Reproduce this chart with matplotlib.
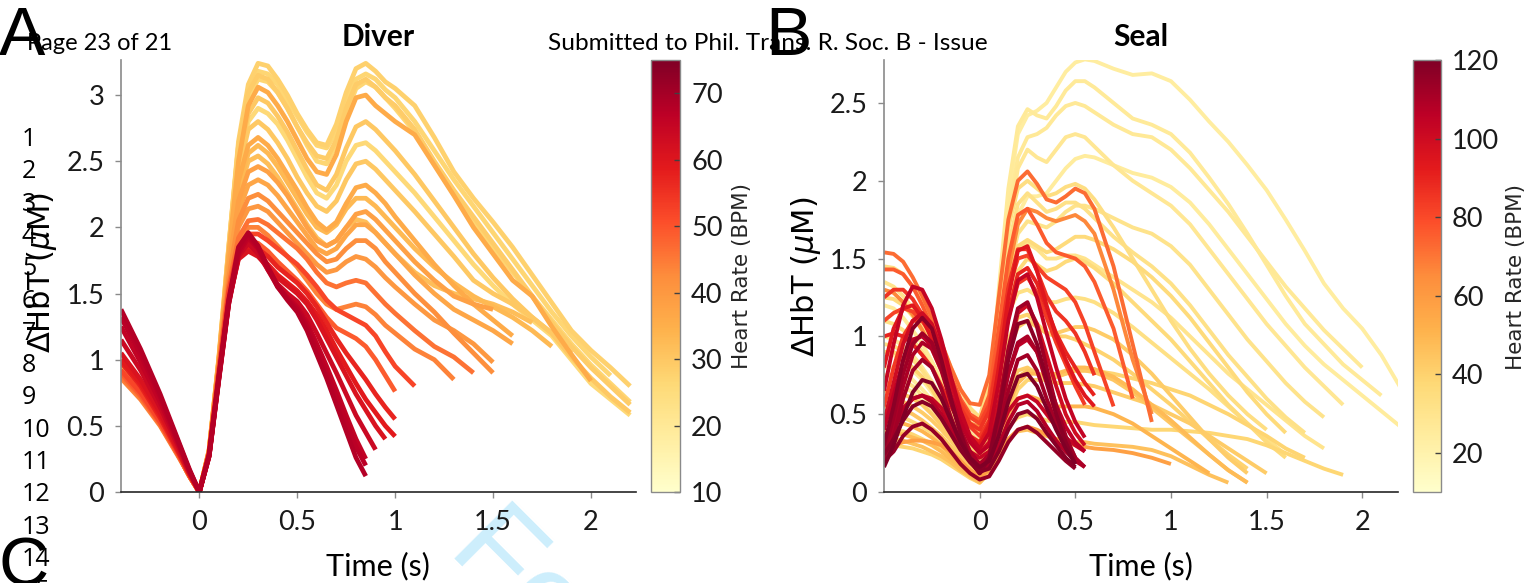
import numpy as np
import matplotlib
matplotlib.use("Agg")
import matplotlib.pyplot as plt
from matplotlib import colors as mcolors
from matplotlib import cm
from matplotlib.ticker import FormatStrFormatter

# ---------------- DATA ----------------
# Diver: time grid (s)
t_diver = [-0.4, -0.3, -0.2, -0.1, -0.05, 0.0, 0.05, 0.1, 0.15, 0.2, 0.25, 0.3, 0.35, 0.4,
           0.45, 0.5, 0.55, 0.6, 0.65, 0.7, 0.75, 0.8, 0.85, 0.9, 0.95, 1.0, 1.1, 1.2, 1.3,
           1.4, 1.5, 1.6, 1.7, 1.8, 1.9, 2.0, 2.1, 2.2]

d01 = [1.38, 1.08, 0.74, 0.36, 0.17, 0.0, 0.28, 0.88, 1.45, 1.85, 1.96, 1.86, 1.70, 1.55, 1.45, 1.36, 1.22, 1.04, 0.86, 0.66, 0.46, 0.26, 0.12]
d02 = [1.25, 0.98, 0.68, 0.34, 0.16, 0.0, 0.27, 0.85, 1.42, 1.80, 1.92, 1.84, 1.68, 1.55, 1.47, 1.40, 1.28, 1.12, 0.95, 0.77, 0.58, 0.40, 0.25]
d03 = [1.15, 0.92, 0.64, 0.32, 0.15, 0.0, 0.27, 0.86, 1.42, 1.78, 1.88, 1.80, 1.68, 1.57, 1.50, 1.44, 1.34, 1.20, 1.05, 0.90, 0.74, 0.58, 0.45, 0.32]
d04 = [1.05, 0.85, 0.60, 0.30, 0.14, 0.0, 0.28, 0.87, 1.44, 1.76, 1.82, 1.78, 1.70, 1.62, 1.56, 1.50, 1.42, 1.30, 1.16, 1.02, 0.88, 0.74, 0.62, 0.50, 0.40]
d05 = [0.98, 0.80, 0.56, 0.28, 0.13, 0.0, 0.28, 0.88, 1.46, 1.78, 1.86, 1.84, 1.78, 1.70, 1.64, 1.58, 1.50, 1.40, 1.28, 1.16, 1.05, 0.95, 0.85, 0.74, 0.64, 0.55]
d06 = [0.92, 0.75, 0.53, 0.27, 0.13, 0.0, 0.30, 0.92, 1.52, 1.85, 1.95, 1.95, 1.90, 1.84, 1.78, 1.72, 1.64, 1.55, 1.45, 1.38, 1.34, 1.30, 1.26, 1.18, 1.06, 0.95, 0.80]
d07 = [0.88, 0.72, 0.51, 0.26, 0.12, 0.0, 0.30, 0.94, 1.56, 1.92, 2.05, 2.06, 2.02, 1.96, 1.90, 1.84, 1.76, 1.66, 1.58, 1.55, 1.58, 1.60, 1.58, 1.50, 1.42, 1.35, 1.22, 1.10, 1.02, 0.90]
d08 = [0.90, 0.73, 0.51, 0.26, 0.12, 0.0, 0.30, 0.96, 1.62, 2.05, 2.22, 2.25, 2.20, 2.12, 2.04, 1.96, 1.88, 1.80, 1.74, 1.76, 1.84, 1.90, 1.90, 1.84, 1.74, 1.66, 1.50, 1.36, 1.20, 1.05, 0.90]
d09 = [0.92, 0.74, 0.52, 0.26, 0.12, 0.0, 0.30, 0.98, 1.70, 2.20, 2.42, 2.46, 2.42, 2.34, 2.24, 2.12, 2.00, 1.90, 1.86, 1.90, 2.00, 2.10, 2.12, 2.06, 1.98, 1.90, 1.74, 1.60, 1.48, 1.42, 1.38]
d10 = [0.95, 0.76, 0.53, 0.27, 0.12, 0.0, 0.31, 1.00, 1.76, 2.35, 2.62, 2.68, 2.62, 2.52, 2.40, 2.28, 2.15, 2.04, 1.98, 2.04, 2.18, 2.30, 2.32, 2.26, 2.18, 2.08, 1.90, 1.72, 1.56, 1.42, 1.30, 1.18]
d11 = [0.96, 0.77, 0.54, 0.27, 0.13, 0.0, 0.31, 1.00, 1.80, 2.50, 2.92, 3.06, 3.02, 2.92, 2.80, 2.66, 2.52, 2.42, 2.40, 2.55, 2.80, 2.98, 3.00, 2.92, 2.86, 2.80, 2.70, 2.47, 2.24, 2.00, 1.80, 1.60, 1.48, 1.25, 1.04, 0.84]
d12 = [0.98, 0.78, 0.55, 0.28, 0.13, 0.0, 0.32, 1.02, 1.85, 2.65, 3.08, 3.24, 3.22, 3.12, 3.00, 2.86, 2.74, 2.64, 2.62, 2.78, 3.02, 3.20, 3.24, 3.18, 3.10, 3.05, 2.92, 2.68, 2.42, 2.22, 2.04, 1.85, 1.64, 1.43, 1.22, 1.07, 0.94, 0.80]
d13 = [0.95, 0.76, 0.53, 0.27, 0.12, 0.0, 0.31, 1.00, 1.82, 2.58, 2.98, 3.12, 3.10, 3.02, 2.90, 2.76, 2.62, 2.50, 2.48, 2.62, 2.86, 3.05, 3.10, 3.06, 2.98, 2.90, 2.72, 2.48, 2.25, 2.05, 1.85, 1.66, 1.48, 1.30, 1.12, 0.96, 0.82, 0.68]
d14 = [0.92, 0.74, 0.52, 0.26, 0.12, 0.0, 0.30, 0.98, 1.75, 2.45, 2.80, 2.90, 2.86, 2.78, 2.66, 2.52, 2.38, 2.26, 2.22, 2.32, 2.50, 2.62, 2.64, 2.58, 2.50, 2.42, 2.26, 2.08, 1.90, 1.72, 1.56, 1.42, 1.30, 1.18, 1.00, 0.82, 0.70, 0.58]
d15 = [0.94, 0.75, 0.53, 0.27, 0.12, 0.0, 0.31, 1.00, 1.78, 2.42, 2.74, 2.80, 2.74, 2.64, 2.52, 2.38, 2.26, 2.16, 2.12, 2.20, 2.36, 2.48, 2.50, 2.44, 2.36, 2.28, 2.12, 1.95, 1.78, 1.60, 1.50, 1.42, 1.32, 1.20, 1.05]
d16 = [0.90, 0.73, 0.51, 0.26, 0.12, 0.0, 0.30, 0.97, 1.70, 2.25, 2.50, 2.54, 2.48, 2.38, 2.26, 2.14, 2.02, 1.92, 1.86, 1.90, 2.00, 2.06, 2.04, 1.96, 1.88, 1.80, 1.66, 1.56, 1.50, 1.46, 1.42, 1.36, 1.28]
d17 = [0.96, 0.77, 0.54, 0.27, 0.13, 0.0, 0.31, 1.01, 1.84, 2.62, 3.04, 3.18, 3.16, 3.08, 2.96, 2.84, 2.72, 2.62, 2.60, 2.72, 2.94, 3.12, 3.16, 3.12, 3.04, 2.98, 2.80, 2.58, 2.36, 2.16, 1.96, 1.76, 1.56, 1.36, 1.18, 1.02, 0.88]
d18 = [0.86, 0.70, 0.50, 0.25, 0.12, 0.0, 0.30, 0.93, 1.54, 1.88, 2.00, 2.00, 1.94, 1.86, 1.78, 1.70, 1.60, 1.50, 1.42, 1.38, 1.40, 1.42, 1.40, 1.34, 1.26, 1.20, 1.08, 1.00, 0.85]
d19 = [0.90, 0.73, 0.52, 0.26, 0.12, 0.0, 0.29, 0.90, 1.50, 1.82, 1.90, 1.88, 1.82, 1.74, 1.67, 1.60, 1.52, 1.42, 1.32, 1.24, 1.20, 1.16, 1.10, 1.00, 0.88, 0.76]
d20 = [1.32, 1.04, 0.72, 0.35, 0.16, 0.0, 0.27, 0.86, 1.43, 1.82, 1.94, 1.85, 1.70, 1.56, 1.46, 1.38, 1.25, 1.08, 0.90, 0.72, 0.53, 0.34, 0.20]
d21 = [1.00, 0.82, 0.58, 0.29, 0.14, 0.0, 0.28, 0.87, 1.44, 1.77, 1.84, 1.80, 1.72, 1.64, 1.58, 1.52, 1.44, 1.34, 1.22, 1.08, 0.95, 0.82, 0.70, 0.60, 0.50, 0.42]
d22 = [0.93, 0.75, 0.52, 0.26, 0.12, 0.0, 0.30, 0.98, 1.72, 2.30, 2.56, 2.62, 2.56, 2.46, 2.34, 2.22, 2.10, 2.00, 1.96, 2.02, 2.14, 2.22, 2.22, 2.16, 2.08, 2.00, 1.84, 1.70, 1.58, 1.48, 1.40, 1.32, 1.22, 1.10]
d23 = [0.97, 0.78, 0.55, 0.27, 0.13, 0.0, 0.32, 1.02, 1.85, 2.62, 3.02, 3.15, 3.12, 3.02, 2.90, 2.76, 2.64, 2.54, 2.52, 2.66, 2.90, 3.08, 3.12, 3.06, 2.98, 2.92, 2.74, 2.50, 2.28, 2.08, 1.88, 1.68, 1.48, 1.28, 1.10, 0.94, 0.80, 0.66]
d24 = [0.93, 0.75, 0.52, 0.26, 0.12, 0.0, 0.31, 0.99, 1.78, 2.50, 2.86, 2.98, 2.94, 2.84, 2.72, 2.58, 2.44, 2.32, 2.28, 2.40, 2.60, 2.76, 2.80, 2.74, 2.66, 2.58, 2.40, 2.20, 2.00, 1.80, 1.62, 1.46, 1.32, 1.20, 1.02, 0.86, 0.72, 0.60]
d25 = [0.89, 0.72, 0.51, 0.26, 0.12, 0.0, 0.30, 0.95, 1.60, 2.00, 2.14, 2.16, 2.12, 2.04, 1.96, 1.88, 1.80, 1.72, 1.66, 1.68, 1.74, 1.78, 1.76, 1.70, 1.62, 1.55, 1.42, 1.30, 1.22, 1.12, 0.98]
d26 = [0.91, 0.74, 0.52, 0.26, 0.12, 0.0, 0.30, 0.97, 1.66, 2.12, 2.32, 2.36, 2.32, 2.24, 2.14, 2.04, 1.94, 1.84, 1.80, 1.84, 1.94, 2.02, 2.02, 1.96, 1.88, 1.80, 1.64, 1.50, 1.38, 1.30, 1.22, 1.12]

diver_curves = [d01, d02, d03, d04, d05, d06, d07, d08, d09, d10, d11, d12, d13, d14, d15, d16, d17,
                d18, d19, d20, d21, d22, d23, d24, d25, d26]
diver_hr = [68, 66, 64, 61, 57, 52, 46, 42, 38, 36, 36, 28, 27, 26, 30, 32, 27,
            44, 49, 67, 59, 33, 29, 30, 40, 37]

# Seal: time grid (s)
t_seal = [-0.5, -0.45, -0.4, -0.35, -0.3, -0.25, -0.2, -0.15, -0.1, -0.05, 0.0, 0.05, 0.1,
          0.15, 0.2, 0.25, 0.3, 0.35, 0.4, 0.45, 0.5, 0.55, 0.6, 0.7, 0.8, 0.9, 1.0, 1.1,
          1.2, 1.3, 1.4, 1.5, 1.6, 1.7, 1.8, 1.9, 2.0, 2.1, 2.2]

s_r1 = [0.30, 0.55, 0.85, 1.05, 1.12, 1.05, 0.85, 0.60, 0.38, 0.20, 0.12, 0.22, 0.50, 0.85, 1.08, 1.10, 0.95, 0.72, 0.50, 0.32, 0.18]
s_r2 = [0.18, 0.35, 0.60, 0.78, 0.85, 0.80, 0.66, 0.48, 0.32, 0.20, 0.12, 0.18, 0.38, 0.65, 0.85, 0.88, 0.78, 0.60, 0.44, 0.30, 0.20]
s_r3 = [0.30, 0.40, 0.52, 0.60, 0.62, 0.58, 0.50, 0.40, 0.30, 0.22, 0.16, 0.18, 0.30, 0.45, 0.56, 0.58, 0.52, 0.42, 0.33, 0.26, 0.20, 0.16]
s_r4 = [0.65, 0.95, 1.20, 1.32, 1.30, 1.18, 0.98, 0.74, 0.52, 0.36, 0.28, 0.38, 0.70, 1.10, 1.36, 1.40, 1.25, 1.02, 0.80, 0.60, 0.45, 0.35]
s_r5 = [0.20, 0.26, 0.36, 0.42, 0.44, 0.40, 0.34, 0.26, 0.18, 0.12, 0.08, 0.10, 0.20, 0.32, 0.40, 0.42, 0.38, 0.32, 0.26, 0.20, 0.15]
s_r6 = [0.45, 0.70, 0.95, 1.10, 1.15, 1.08, 0.92, 0.70, 0.50, 0.34, 0.25, 0.32, 0.58, 0.90, 1.15, 1.20, 1.08, 0.88, 0.68, 0.50, 0.38, 0.30]
s_r7 = [0.80, 1.05, 1.18, 1.20, 1.12, 0.98, 0.80, 0.60, 0.44, 0.34, 0.30, 0.42, 0.80, 1.25, 1.55, 1.58, 1.42, 1.20, 1.00, 0.85, 0.72, 0.62, 0.55]
s_r8 = [0.22, 0.42, 0.68, 0.88, 0.96, 0.92, 0.78, 0.58, 0.40, 0.26, 0.18, 0.24, 0.46, 0.76, 0.96, 1.00, 0.90, 0.70, 0.50, 0.34, 0.22, 0.16]
s_r9 = [0.16, 0.30, 0.48, 0.64, 0.72, 0.70, 0.60, 0.46, 0.32, 0.22, 0.16, 0.20, 0.36, 0.58, 0.74, 0.76, 0.68, 0.54, 0.40, 0.28, 0.18]
s_r10 = [0.35, 0.44, 0.54, 0.60, 0.62, 0.60, 0.54, 0.44, 0.34, 0.26, 0.22, 0.26, 0.38, 0.52, 0.60, 0.62, 0.58, 0.50, 0.42, 0.35, 0.30, 0.26]
s_r11 = [0.25, 0.48, 0.76, 0.95, 1.02, 0.96, 0.80, 0.58, 0.38, 0.22, 0.14, 0.22, 0.52, 0.92, 1.18, 1.22, 1.06, 0.80, 0.55, 0.36, 0.22]
s_r12 = [0.40, 0.62, 0.84, 0.98, 1.00, 0.94, 0.80, 0.62, 0.45, 0.32, 0.25, 0.30, 0.50, 0.76, 0.94, 0.98, 0.90, 0.74, 0.56, 0.42, 0.32, 0.26]
s_r13 = [0.24, 0.34, 0.46, 0.55, 0.58, 0.55, 0.47, 0.37, 0.27, 0.19, 0.13, 0.15, 0.26, 0.40, 0.50, 0.52, 0.47, 0.38, 0.30, 0.22, 0.16]
s_o1 = [1.54, 1.53, 1.48, 1.38, 1.26, 1.12, 0.96, 0.80, 0.66, 0.57, 0.56, 0.75, 1.25, 1.75, 2.00, 2.06, 1.98, 1.88, 1.86, 1.90, 1.95, 1.92, 1.82, 1.45, 0.95, 0.45]
s_o2 = [1.43, 1.43, 1.40, 1.32, 1.20, 1.06, 0.90, 0.74, 0.60, 0.50, 0.46, 0.62, 1.05, 1.50, 1.78, 1.82, 1.72, 1.60, 1.54, 1.52, 1.50, 1.45, 1.35, 1.05, 0.60]
s_o3 = [1.25, 1.30, 1.30, 1.24, 1.14, 1.00, 0.84, 0.68, 0.54, 0.44, 0.40, 0.52, 0.90, 1.32, 1.56, 1.56, 1.42, 1.26, 1.16, 1.10, 1.02, 0.90, 0.75]
s_o4 = [1.30, 1.28, 1.22, 1.14, 1.04, 0.92, 0.78, 0.64, 0.52, 0.44, 0.42, 0.58, 1.00, 1.42, 1.72, 1.82, 1.80, 1.76, 1.74, 1.76, 1.78, 1.74, 1.66, 1.30, 0.85, 0.50]
s_o5 = [1.00, 1.02, 1.00, 0.95, 0.88, 0.80, 0.68, 0.55, 0.44, 0.36, 0.32, 0.44, 0.78, 1.15, 1.40, 1.44, 1.34, 1.18, 1.02, 0.90, 0.80, 0.70, 0.62]
s_o6 = [0.28, 0.30, 0.32, 0.33, 0.33, 0.32, 0.30, 0.26, 0.20, 0.14, 0.10, 0.14, 0.24, 0.34, 0.40, 0.42, 0.40, 0.37, 0.34, 0.32, 0.30, 0.29, 0.28, 0.27, 0.25, 0.22, 0.18]
s_o7 = [1.10, 1.15, 1.18, 1.16, 1.10, 1.00, 0.86, 0.72, 0.58, 0.48, 0.44, 0.56, 0.92, 1.30, 1.50, 1.52, 1.45, 1.38, 1.34, 1.30, 1.22, 1.08, 0.90, 0.55]
s_o8 = [0.55, 0.80, 1.00, 1.10, 1.10, 1.02, 0.88, 0.70, 0.54, 0.42, 0.36, 0.46, 0.78, 1.12, 1.34, 1.38, 1.28, 1.12, 0.96, 0.82, 0.68, 0.56]
s_y1 = [0.90, 0.88, 0.84, 0.78, 0.72, 0.64, 0.55, 0.46, 0.36, 0.26, 0.20, 0.50, 1.20, 1.90, 2.30, 2.42, 2.45, 2.50, 2.60, 2.70, 2.76, 2.78, 2.77,
        2.72, 2.68, 2.69, 2.64, 2.52, 2.38, 2.25, 2.10, 1.94, 1.75, 1.55, 1.34, 1.18, 1.05, 0.88, 0.67]
s_y2 = [1.20, 1.18, 1.12, 1.04, 0.95, 0.84, 0.72, 0.60, 0.48, 0.38, 0.32, 0.60, 1.30, 1.95, 2.35, 2.46, 2.42, 2.40, 2.48, 2.58, 2.64, 2.64, 2.60,
        2.50, 2.40, 2.36, 2.30, 2.18, 2.02, 1.85, 1.66, 1.46, 1.26, 1.08, 0.95, 0.82, 0.72, 0.62]
s_y3 = [0.70, 0.70, 0.68, 0.64, 0.58, 0.52, 0.45, 0.37, 0.29, 0.22, 0.16, 0.45, 1.10, 1.70, 2.08, 2.20, 2.15, 2.12, 2.20, 2.28, 2.30, 2.28, 2.22,
        2.10, 2.00, 1.92, 1.84, 1.72, 1.56, 1.40, 1.24, 1.08, 0.94, 0.80, 0.68, 0.56]
s_y4 = [1.10, 1.08, 1.04, 0.98, 0.90, 0.80, 0.70, 0.58, 0.47, 0.38, 0.32, 0.55, 1.10, 1.58, 1.85, 1.92, 1.86, 1.80, 1.82, 1.86, 1.86, 1.82, 1.76,
        1.64, 1.54, 1.45, 1.34, 1.20, 1.04, 0.88, 0.74, 0.60, 0.48, 0.38]
s_y5 = [0.50, 0.50, 0.48, 0.45, 0.42, 0.38, 0.33, 0.27, 0.20, 0.14, 0.10, 0.30, 0.75, 1.15, 1.42, 1.50, 1.46, 1.42, 1.44, 1.48, 1.50, 1.48, 1.44,
        1.34, 1.22, 1.10, 0.98, 0.84, 0.70, 0.56, 0.44, 0.32, 0.22]
s_y6 = [0.90, 0.90, 0.86, 0.80, 0.74, 0.66, 0.56, 0.46, 0.36, 0.28, 0.22, 0.36, 0.70, 0.98, 1.12, 1.14, 1.08, 1.02, 1.00, 1.00, 0.98, 0.95, 0.92,
        0.85, 0.76, 0.66, 0.56, 0.45, 0.34, 0.24, 0.15]
s_y7 = [0.35, 0.34, 0.33, 0.31, 0.29, 0.26, 0.23, 0.19, 0.14, 0.10, 0.06, 0.12, 0.24, 0.34, 0.39, 0.40, 0.38, 0.36, 0.34, 0.33, 0.32, 0.32, 0.31,
        0.30, 0.29, 0.27, 0.23, 0.17, 0.11, 0.06]
s_y8 = [0.60, 0.60, 0.58, 0.55, 0.51, 0.46, 0.40, 0.33, 0.25, 0.18, 0.13, 0.22, 0.45, 0.66, 0.78, 0.80, 0.76, 0.72, 0.70, 0.70, 0.70, 0.69, 0.68,
        0.64, 0.60, 0.56, 0.50, 0.44, 0.36, 0.28, 0.20, 0.12]
s_y9 = [0.80, 0.80, 0.77, 0.72, 0.66, 0.59, 0.51, 0.42, 0.33, 0.25, 0.19, 0.40, 0.95, 1.45, 1.78, 1.90, 1.90, 1.92, 2.00, 2.08, 2.14, 2.16, 2.15,
        2.10, 2.05, 2.02, 1.96, 1.86, 1.72, 1.56, 1.40, 1.24, 1.08, 0.94, 0.82, 0.72, 0.62, 0.52, 0.42]
s_y10 = [1.35, 1.32, 1.26, 1.18, 1.08, 0.96, 0.82, 0.68, 0.55, 0.44, 0.38, 0.58, 1.00, 1.36, 1.56, 1.60, 1.56, 1.50, 1.50, 1.52, 1.52, 1.50, 1.46,
         1.38, 1.30, 1.22, 1.12, 1.00, 0.88, 0.76, 0.66, 0.56, 0.46, 0.36, 0.28]
s_y11 = [0.45, 0.45, 0.44, 0.42, 0.39, 0.35, 0.30, 0.24, 0.18, 0.12, 0.08, 0.16, 0.34, 0.50, 0.60, 0.62, 0.60, 0.57, 0.55, 0.55, 0.55, 0.55, 0.54,
         0.50, 0.44, 0.36, 0.28, 0.20, 0.12]
s_y12 = [1.45, 1.44, 1.40, 1.32, 1.22, 1.10, 0.95, 0.80, 0.66, 0.54, 0.48, 0.70, 1.25, 1.70, 1.95, 2.00, 1.95, 1.90, 1.92, 1.96, 1.98, 1.95, 1.88,
         1.70, 1.50, 1.30, 1.10, 0.92, 0.76, 0.62, 0.50, 0.40]
s_y13 = [0.40, 0.40, 0.39, 0.37, 0.34, 0.31, 0.27, 0.22, 0.17, 0.12, 0.08, 0.15, 0.30, 0.42, 0.48, 0.50, 0.48, 0.46, 0.45, 0.45, 0.45, 0.44, 0.43,
         0.42, 0.41, 0.40, 0.40, 0.39, 0.38, 0.36, 0.34, 0.30, 0.25, 0.20, 0.15, 0.11]
s_y14 = [0.95, 0.94, 0.90, 0.85, 0.78, 0.70, 0.60, 0.50, 0.40, 0.31, 0.25, 0.45, 0.85, 1.15, 1.28, 1.30, 1.26, 1.22, 1.22, 1.24, 1.25, 1.24, 1.22,
         1.15, 1.06, 0.96, 0.86, 0.76, 0.66, 0.55, 0.44, 0.34, 0.24]
s_y15 = [1.00, 0.98, 0.94, 0.88, 0.80, 0.71, 0.61, 0.50, 0.40, 0.31, 0.25, 0.55, 1.20, 1.80, 2.15, 2.28, 2.30, 2.34, 2.42, 2.48, 2.50, 2.48, 2.44,
         2.36, 2.30, 2.28, 2.20, 2.08, 1.94, 1.80, 1.64, 1.48, 1.32, 1.18, 1.04, 0.92, 0.80]
s_y16 = [0.75, 0.75, 0.72, 0.68, 0.62, 0.56, 0.48, 0.40, 0.31, 0.24, 0.18, 0.42, 0.95, 1.40, 1.66, 1.74, 1.72, 1.70, 1.74, 1.80, 1.84, 1.84, 1.82,
         1.76, 1.70, 1.66, 1.58, 1.46, 1.30, 1.14, 0.98, 0.84, 0.70, 0.58, 0.48]
s_y17 = [0.55, 0.55, 0.53, 0.50, 0.46, 0.41, 0.36, 0.29, 0.22, 0.16, 0.11, 0.20, 0.42, 0.62, 0.74, 0.78, 0.76, 0.74, 0.74, 0.76, 0.78, 0.78, 0.77,
         0.72, 0.64, 0.54, 0.44, 0.34, 0.24, 0.14, 0.06]
s_y18 = [0.38, 0.38, 0.37, 0.35, 0.33, 0.30, 0.26, 0.21, 0.16, 0.11, 0.07, 0.16, 0.36, 0.56, 0.70, 0.76, 0.76, 0.75, 0.76, 0.78, 0.80, 0.80, 0.79,
         0.74, 0.66, 0.56, 0.46, 0.35, 0.24, 0.14, 0.06]
s_y19 = [1.25, 1.24, 1.20, 1.13, 1.04, 0.94, 0.82, 0.68, 0.56, 0.45, 0.40, 0.60, 1.05, 1.40, 1.58, 1.62, 1.58, 1.54, 1.56, 1.60, 1.64, 1.64, 1.62,
         1.56, 1.48, 1.38, 1.26, 1.12, 0.96, 0.80, 0.64, 0.50, 0.38]
s_y20 = [0.65, 0.65, 0.63, 0.60, 0.56, 0.50, 0.43, 0.35, 0.27, 0.20, 0.15, 0.30, 0.62, 0.90, 1.06, 1.10, 1.06, 1.02, 1.02, 1.04, 1.06, 1.06, 1.04,
         0.98, 0.88, 0.76, 0.62, 0.48, 0.34, 0.22, 0.12]
s_y21 = [0.30, 0.30, 0.29, 0.28, 0.26, 0.24, 0.21, 0.17, 0.13, 0.09, 0.06, 0.14, 0.32, 0.52, 0.66, 0.72, 0.72, 0.72, 0.74, 0.76, 0.78, 0.78, 0.78,
         0.76, 0.73, 0.70, 0.66, 0.62, 0.56, 0.50, 0.43, 0.36, 0.28, 0.22]

seal_curves = [s_r1, s_r2, s_r3, s_r4, s_r5, s_r6, s_r7, s_r8, s_r9, s_r10, s_r11, s_r12, s_r13,
               s_o1, s_o2, s_o3, s_o4, s_o5, s_o6, s_o7, s_o8,
               s_y1, s_y2, s_y3, s_y4, s_y5, s_y6, s_y7, s_y8, s_y9, s_y10, s_y11, s_y12, s_y13, s_y14,
               s_y15, s_y16, s_y17, s_y18, s_y19, s_y20, s_y21]
seal_hr = [117, 112, 108, 104, 115, 100, 94, 110, 120, 103, 113, 106, 118,
           72, 76, 86, 66, 90, 58, 82, 84,
           24, 26, 28, 32, 36, 40, 46, 42, 25, 30, 50, 34, 38, 33,
           27, 31, 44, 48, 36, 42, 39]

diver_hr_range = [10, 75]
seal_hr_range = [10, 120]
diver_cbar_ticks = [10, 20, 30, 40, 50, 60, 70]
seal_cbar_ticks = [20, 40, 60, 80, 100, 120]
diver_yticks = [0, 0.5, 1, 1.5, 2, 2.5, 3]
seal_yticks = [0, 0.5, 1, 1.5, 2, 2.5]
xticks = [0, 0.5, 1, 1.5, 2]

# ---------------- FIGURE ----------------
W, H = 1536, 583
plt.rcParams['font.family'] = ['Lato', 'DejaVu Sans']
fig = plt.figure(figsize=(W / 100, H / 100), dpi=100)
fig.patch.set_facecolor('white')


def fx(x):
    return x / W


def fy(y):
    return 1 - y / H


cmap = plt.get_cmap('YlOrRd')


def draw_panel(ax, t, curves, hrs, norm, lw):
    t = np.asarray(t)
    for i in np.argsort(hrs, kind='stable'):
        v = curves[i]
        ax.plot(t[:len(v)], v, color=cmap(norm(hrs[i])), lw=lw,
                solid_capstyle='butt', solid_joinstyle='round')


def style_axes(ax, yticks, xlim, ylim):
    ax.set_facecolor('none')
    ax.set_xlim(*xlim)
    ax.set_ylim(*ylim)
    ax.set_xticks(xticks)
    ax.set_yticks(yticks)
    ax.xaxis.set_major_formatter(FormatStrFormatter('%g'))
    ax.yaxis.set_major_formatter(FormatStrFormatter('%g'))
    ax.spines['top'].set_visible(False)
    ax.spines['right'].set_visible(False)
    ax.spines['left'].set_color('#8a8a8a')
    ax.spines['bottom'].set_color('#262626')
    ax.spines['left'].set_linewidth(1.2)
    ax.spines['bottom'].set_linewidth(1.2)
    ax.tick_params(direction='out', length=4, width=1, colors='#8a8a8a',
                   labelcolor='#1a1a1a', labelsize=19.5)
    ax.tick_params(axis='x', pad=9)
    ax.tick_params(axis='y', pad=8)


def make_cbar(rect, norm, ticks):
    cax = fig.add_axes(rect)
    cb = fig.colorbar(cm.ScalarMappable(norm=norm, cmap=cmap), cax=cax, ticks=ticks)
    cb.outline.set_edgecolor('#8a8a8a')
    cb.outline.set_linewidth(1)
    cax.tick_params(direction='in', length=4, width=1, colors='#404040',
                    labelcolor='#1a1a1a', labelsize=19.5, pad=8)
    cax.yaxis.set_major_formatter(FormatStrFormatter('%g'))
    return cb


# Panel A (Diver)
normA = mcolors.Normalize(vmin=diver_hr_range[0], vmax=diver_hr_range[1])
axA = fig.add_axes([fx(121), fy(492), (636 - 121) / W, (492 - 60) / H])
draw_panel(axA, t_diver, diver_curves, diver_hr, normA, 3.4)
style_axes(axA, diver_yticks, (-0.4, 2.23), (0, 3.265))
make_cbar([fx(651), fy(492), 29 / W, 432 / H], normA, diver_cbar_ticks)

# Panel B (Seal)
normB = mcolors.Normalize(vmin=seal_hr_range[0], vmax=seal_hr_range[1])
axB = fig.add_axes([fx(884), fy(492), (1398 - 884) / W, (492 - 60) / H])
draw_panel(axB, t_seal, seal_curves, seal_hr, normB, 2.8)
style_axes(axB, seal_yticks, (-0.5, 2.187), (0, 2.776))
make_cbar([fx(1413), fy(492), 28 / W, 432 / H], normB, seal_cbar_ticks)

# Titles and axis labels
fig.text(fx(378), fy(46), 'Diver', ha='center', va='baseline', fontsize=21.5, fontweight='bold')
fig.text(fx(1141), fy(46), 'Seal', ha='center', va='baseline', fontsize=21.5, fontweight='bold')
fig.text(fx(378), fy(575), 'Time (s)', ha='center', va='baseline', fontsize=22)
fig.text(fx(1141), fy(575), 'Time (s)', ha='center', va='baseline', fontsize=22)
ylab = r'$\Delta$HbT ($\mu$M)'
fig.text(fx(42), fy(273), ylab, rotation=90, ha='center', va='center', fontsize=22, family='DejaVu Sans')
fig.text(fx(806), fy(277), ylab, rotation=90, ha='center', va='center', fontsize=22, family='DejaVu Sans')
fig.text(fx(742), fy(276), 'Heart Rate (BPM)', rotation=90, ha='center', va='center', fontsize=15.5,
         family='DejaVu Sans', color='#262626')
fig.text(fx(1516), fy(277), 'Heart Rate (BPM)', rotation=90, ha='center', va='center', fontsize=15.5,
         family='DejaVu Sans', color='#262626')

# Page furniture: header, line numbers, watermark
fig.text(fx(27), fy(50), 'Page 23 of 21', ha='left', va='baseline', fontsize=17)
fig.text(fx(548), fy(50), 'Submitted to Phil. Trans. R. Soc. B - Issue', ha='left', va='baseline', fontsize=17.6)
for k in range(1, 16):
    fig.text(fx(22), fy(137 + (k - 1) * 32.3 + 9), str(k), ha='left', va='baseline',
             fontsize=18, family='Open Sans')
fig.text(fx(447), fy(551), 'For Review Only', rotation=-45, rotation_mode='anchor',
         ha='left', va='baseline', fontsize=86, color='#cdeefc', family='Liberation Sans', zorder=-5)

# Panel letters
fig.text(fx(-1), fy(55), 'A', ha='left', va='baseline', fontsize=50, family='Liberation Sans')
fig.text(fx(765), fy(55), 'B', ha='left', va='baseline', fontsize=50, family='Liberation Sans')
fig.text(fx(-2), fy(586), 'C', ha='left', va='baseline', fontsize=50, family='Liberation Sans')

fig.savefig('out.png', dpi=100, facecolor='white')
